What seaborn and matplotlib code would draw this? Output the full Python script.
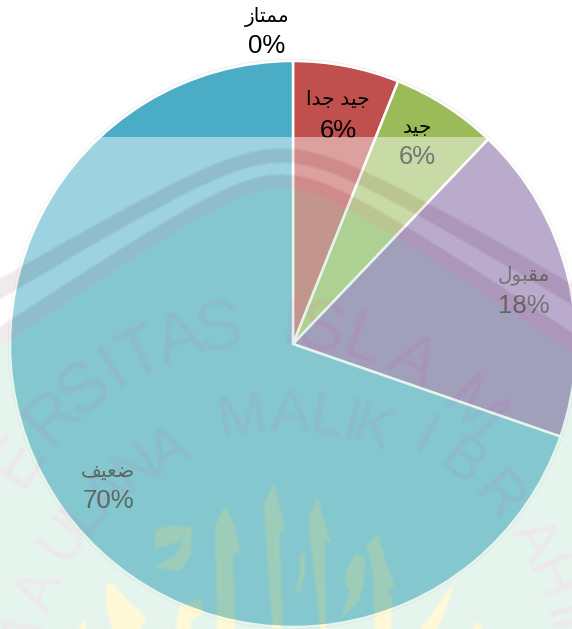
import numpy as np
import matplotlib
matplotlib.use("Agg")
import matplotlib.pyplot as plt
import seaborn as sns
from matplotlib.path import Path
from matplotlib.textpath import TextPath
from matplotlib.font_manager import FontProperties
from matplotlib.transforms import Affine2D

# ---------- data ----------
categories = ["ممتاز", "جيد جدا", "جيد", "مقبول", "ضعيف"]
values = [0, 2, 2, 6, 23]   # counts consistent with 0%, 6%, 6%, 18%, 70%
# shaped, visual-order forms (matplotlib does no Arabic shaping)
shaped = {
    "ممتاز": "\uFEAF\uFE8E\uFE98\uFEE4\uFEE3",
    "جيد جدا": "\uFE8D\uFEAA\uFE9F \uFEAA\uFEF4\uFE9F",
    "جيد": "\uFEAA\uFEF4\uFE9F",
    "مقبول": "\uFEDD\uFEEE\uFE92\uFED8\uFEE3",
    "ضعيف": "\uFED2\uFEF4\uFECC\uFEBF",
}
colors = ["#4F81BD", "#C0504D", "#9BBB59", "#8064A2", "#4BACC6"]

# ---------- layout ----------
W, H = 572, 629
CX, CY, RAD = 293, 344, 283
label_xy = [(267, 17), (338, 100), (417, 128), (524, 275), (108, 471)]
pct_xy = [(267, 46), (338, 131), (417, 157), (524, 306), (108, 501)]

sns.set_theme(style="white")
plt.rcParams["font.family"] = ["Liberation Sans", "DejaVu Sans"]
palette = sns.color_palette(colors)

fig = plt.figure(figsize=(W / 100, H / 100), dpi=100)
ax = fig.add_axes([0, 0, 1, 1])
ax.set_xlim(0, W)
ax.set_ylim(0, H)
ax.set_aspect("equal")
ax.axis("off")

ax.add_patch(plt.Circle((CX, H - CY), RAD + 1.5, fc="none", ec="#999999", lw=1, alpha=0.18, zorder=1))
ax.pie(values, colors=palette, startangle=90, counterclock=False,
       center=(CX, H - CY), radius=RAD, frame=True,
       wedgeprops=dict(edgecolor="white", linewidth=1.8, zorder=2))
ax.set_xlim(0, W)
ax.set_ylim(0, H)
ax.axis("off")

total = sum(values)
for cat, v, (lx, ly), (px, py) in zip(categories, values, label_xy, pct_xy):
    ax.text(lx, H - ly, shaped[cat], ha="center", va="center", fontsize=14.5, color="black", zorder=3)
    ax.text(px, H - py, f"{100 * v / total:.0f}%", ha="center", va="center", fontsize=18.5, color="black", zorder=3)

# ---------- scanned watermark layer above the chart ----------
yy, xx = np.mgrid[0:H, 0:W]
rgb = np.ones((H, W, 3))
TOP = 137
BAND = np.array([226, 212, 214]) / 255
DISC = np.array([200, 233, 218]) / 255
LETTER = np.array([216, 208, 214]) / 255
LOGO = np.array([255, 244, 168]) / 255

dx = xx - 281.0
line1 = 155 + np.sqrt(40**2 + (0.60 * dx) ** 2) - 40
line2 = 181 + np.sqrt(40**2 + (0.68 * dx) ** 2) - 40
hw = 7 + 0.012 * np.abs(dx)
rgb[yy > line2 + hw] = DISC
rgb[np.abs(yy - line1) < hw] = BAND
rgb[np.abs(yy - line2) < hw] = BAND


def poly_mask(poly):
    poly = np.asarray(poly, float)
    x0, y0 = np.maximum(np.floor(poly.min(0)).astype(int), 0)
    x1, y1 = np.minimum(np.ceil(poly.max(0)).astype(int) + 1, [W, H])
    m = np.zeros((H, W), bool)
    if x1 <= x0 or y1 <= y0:
        return m
    sy, sx = np.mgrid[y0:y1, x0:x1]
    inside = Path(poly).contains_points(np.c_[sx.ravel(), sy.ravel()])
    m[y0:y1, x0:x1] = inside.reshape(sy.shape)
    return m


def stamp(ring_text, angles, cx, cy, r, size):
    fp = FontProperties(family="Liberation Sans")
    for ch, ang in zip(ring_text, angles):
        tp = TextPath((0, 0), ch, size=size, prop=fp)
        b = tp.get_extents()
        a = np.radians(ang)
        tr = (Affine2D().translate(-(b.x0 + b.x1) / 2, -(b.y0 + b.y1) / 2).scale(1, -1)
              .rotate_deg(ang).translate(cx + r * np.sin(a), cy - r * np.cos(a)))
        m = np.zeros((H, W), bool)
        for poly in tp.transformed(tr).to_polygons():
            m ^= poly_mask(poly)
        rgb[m] = LETTER


stamp("ERSITAS", [-58, -47, -39, -32, -26, -18, -10], 270, 620, 300, 70)
stamp("ISLAM", [4, 10, 19, 29, 44], 270, 620, 300, 70)
stamp("MAULANA", [-80, -68, -56, -49, -42, -34, -26], 285, 690, 270, 60)
stamp("MALIK", [-9, 1, 9, 14, 19], 285, 690, 280, 60)
stamp("IBRAHIM", [29, 38, 48, 59, 67, 74, 80], 285, 690, 295, 60)

logo_polys = [
    [(215, 525), (225, 505), (234, 525), (240, 552), (232, 552), (235, 629), (217, 629), (215, 560)],
    [(263, 505), (273, 483), (280, 510), (285, 530), (279, 532), (282, 629), (272, 629), (265, 530)],
    [(309, 515), (317, 497), (325, 525), (331, 542), (324, 540), (326, 629), (320, 629), (310, 540)],
    [(366, 545), (377, 533), (385, 560), (394, 585), (388, 590), (390, 629), (375, 629), (372, 570)],
    [(300, 555), (304, 550), (304, 575), (298, 595), (296, 590), (300, 570)],
    [(346, 570), (355, 553), (365, 558), (363, 585), (358, 600), (340, 618), (350, 590), (344, 585)],
    [(155, 530), (170, 525), (192, 527), (190, 555), (180, 570), (153, 567), (175, 555), (182, 540), (165, 545), (155, 548)],
    [(106, 585), (112, 582), (125, 598), (146, 617), (140, 629), (112, 629), (105, 605)],
    [(78, 629), (84, 618), (86, 629)],
    [(175, 629), (180, 605), (200, 598), (203, 612), (190, 620), (190, 629)],
    [(420, 629), (454, 582), (445, 610), (437, 629)],
    [(472, 629), (476, 621), (482, 629)],
    [(383, 605), (392, 590), (390, 629), (383, 629)],
]
for poly in logo_polys:
    rgb[poly_mask(poly)] = LOGO

# slight softening, as in a scan
pad = np.pad(rgb, ((1, 1), (1, 1), (0, 0)), mode="edge")
rgb = sum(pad[1 + j:H + 1 + j, 1 + i:W + 1 + i] for i in (-1, 0, 1) for j in (-1, 0, 1)) / 9
alpha = np.where(yy >= TOP, 0.46, 0.0)
ax.imshow(np.dstack([rgb, alpha]), extent=(0, W, 0, H), origin="upper",
          interpolation="nearest", zorder=5, aspect="equal")
ax.set_xlim(0, W)
ax.set_ylim(0, H)

fig.savefig("out.png", dpi=100, facecolor="white")
